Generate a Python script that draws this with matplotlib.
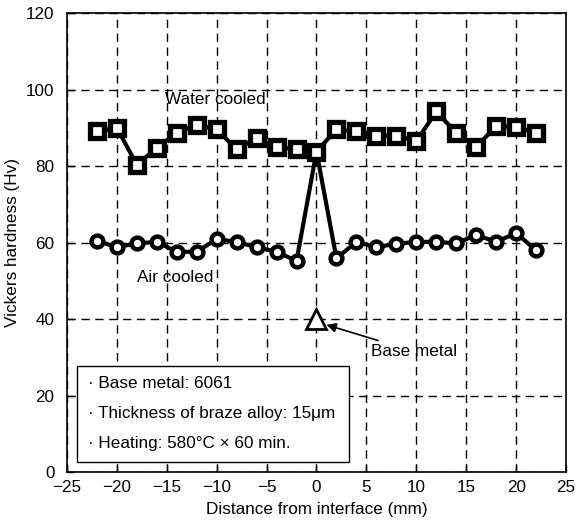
import numpy as np
import matplotlib.pyplot as plt
from matplotlib.patches import Rectangle

plt.rcParams['font.family'] = ['Liberation Sans', 'DejaVu Sans']

# Datos
distance = [-22, -20, -18, -16, -14, -12, -10, -8, -6, -4, -2, 0,
            2, 4, 6, 8, 10, 12, 14, 16, 18, 20, 22]
water_cooled = [89.1, 90.0, 80.4, 84.7, 88.7, 90.8, 89.6, 84.4, 87.3, 85.0, 84.4, 83.8,
                89.6, 89.1, 88.0, 88.0, 86.5, 94.3, 88.7, 85.0, 90.5, 90.2, 88.7]
air_cooled = [60.5, 58.8, 59.8, 60.2, 57.6, 57.6, 60.9, 60.2, 58.8, 57.6, 55.2, 83.8,
              55.9, 60.2, 58.8, 59.7, 60.2, 60.2, 59.8, 62.0, 60.2, 62.5, 58.0]
base_x = [0]
base_y = [40]

fs = 12.3
fig = plt.figure(figsize=(5.77, 5.28), dpi=100)
ax = fig.add_axes([0.116, 0.106, 0.865, 0.869])

ax.plot(distance, air_cooled, color='black', lw=3, marker='o', ms=8.5,
        mfc='white', mec='black', mew=3.2, zorder=3)
ax.plot(distance, water_cooled, color='black', lw=3, marker='s', ms=9.5,
        mfc='white', mec='black', mew=3.8, zorder=4)
ax.plot(base_x, base_y, ls='none', marker='^', ms=14, mfc='white', mec='black',
        mew=2, zorder=4)

ax.set_xlim(-25, 25)
ax.set_ylim(0, 120)
ax.set_xticks(np.arange(-25, 26, 5))
ax.set_yticks(np.arange(0, 121, 20))
ax.set_xticklabels(['\u221225', '\u221220', '\u221215', '\u221210', '\u22125',
                    '0', '5', '10', '15', '20', '25'])
ax.grid(True, color='black', ls=(0, (6, 4)), lw=1)
ax.tick_params(direction='in', length=5, labelsize=fs, width=1)
ax.tick_params(axis='x', pad=6)
ax.tick_params(axis='y', pad=9)
for s in ax.spines.values():
    s.set_linewidth(1.2)

ax.set_xlabel('Distance from interface (mm)', fontsize=fs, labelpad=5)
ax.set_ylabel('Vickers hardness (Hv)', fontsize=fs, labelpad=4)

ax.text(-15.2, 97.5, 'Water cooled', fontsize=fs, va='center', ha='left', zorder=5)
ax.text(-18, 51, 'Air cooled', fontsize=fs, va='center', ha='left', zorder=5)
ax.annotate('Base metal', xy=(1.0, 38.5), xytext=(5.5, 31.5), fontsize=fs,
            va='center', ha='left',
            arrowprops=dict(arrowstyle='-|>', color='black', lw=1.2,
                            shrinkA=2, shrinkB=0, mutation_scale=14), zorder=5)

ax.add_patch(Rectangle((0.02, 0.022), 0.545, 0.209, transform=ax.transAxes,
                       fc='white', ec='black', lw=1, zorder=6))
info = ['\u00b7 Base metal: 6061',
        '\u00b7 Thickness of braze alloy: 15\u03bcm',
        '\u00b7 Heating: 580\u00b0C \u00d7 60 min.']
for i, line in enumerate(info):
    ax.text(0.042, 0.194 - i * 0.0655, line, transform=ax.transAxes, fontsize=fs,
            va='center', ha='left', zorder=7)

fig.savefig('out.png', dpi=100)
